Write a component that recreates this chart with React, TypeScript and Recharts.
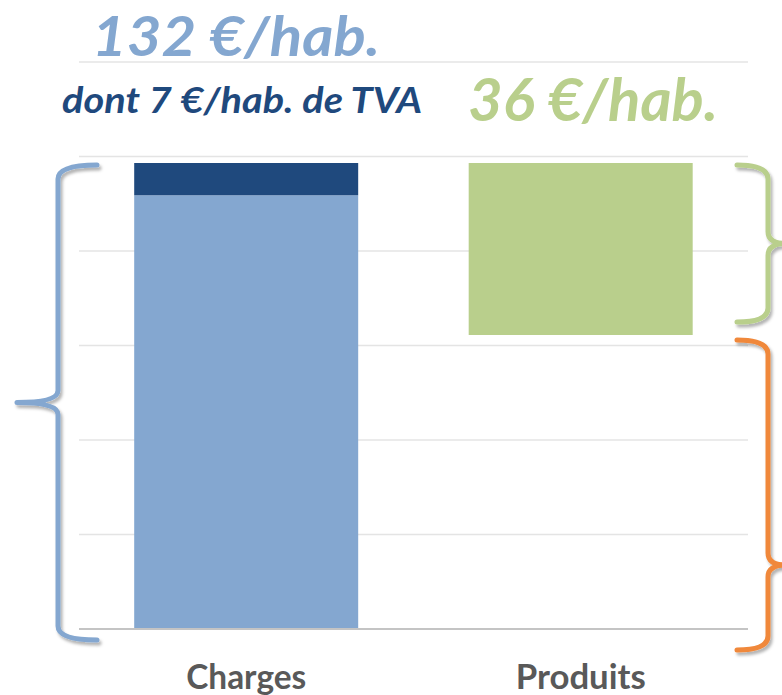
import React from "react";
import {
  BarChart,
  Bar,
  XAxis,
  YAxis,
  CartesianGrid,
  ReferenceArea,
} from "recharts";

// values, in gridline units (one gridline = 1)
const categories = ["Charges", "Produits"];
const chargesHorsTva = [4.59, 0];
const tva = [0.34, 0];
const produitsBase = [0, 3.11];
const produits = [0, 1.82];
const yTicks = [0, 1, 2, 3, 4, 5, 6];

const totalCharges = chargesHorsTva[0] + tva[0];
const produitsTop = produitsBase[1] + produits[1];

const data = categories.map((name, i) => ({
  name,
  chargesHorsTva: chargesHorsTva[i],
  produitsBase: produitsBase[i],
  tva: tva[i],
  produits: produits[i],
}));

const FONT = "Lato, 'Open Sans', sans-serif";

function bracePath(endX: number, spineX: number, tipX: number, y0: number, y1: number, ym: number) {
  const r = 14;
  const t = 12;
  return [
    `M ${endX} ${y0}`,
    `Q ${spineX} ${y0} ${spineX} ${y0 + r}`,
    `L ${spineX} ${ym - t}`,
    `Q ${spineX} ${ym} ${tipX} ${ym}`,
    `Q ${spineX} ${ym} ${spineX} ${ym + t}`,
    `L ${spineX} ${y1 - r}`,
    `Q ${spineX} ${y1} ${endX} ${y1}`,
  ].join(" ");
}

function makeBrace(side: "left" | "right", color: string, padTop: number, padBottom: number, tipShift: number) {
  return function BraceShape(props: any) {
    const { x, y, width, height } = props;
    const y0 = y + padTop;
    const y1 = y + height + padBottom;
    const ym = (y0 + y1) / 2 + tipShift;
    let d;
    if (side === "left") {
      d = bracePath(x + 18, x - 21, x - 62, y0, y1, ym);
    } else {
      const r = x + width;
      d = bracePath(r - 11, r + 20, r + 38, y0, y1, ym);
    }
    return (
      <path
        d={d}
        fill="none"
        stroke={color}
        strokeWidth={5}
        strokeLinecap="round"
        strokeLinejoin="round"
        filter="url(#braceShadow)"
      />
    );
  };
}

function CategoryTick(props: any) {
  const { x, y, payload } = props;
  return (
    <text
      x={x}
      y={y + 52}
      textAnchor="middle"
      fill="#595959"
      fontFamily={FONT}
      fontWeight={700}
      fontSize={35}
      textLength={payload.value === "Charges" ? 120 : 130}
      lengthAdjust="spacingAndGlyphs"
    >
      {payload.value}
    </text>
  );
}

export default function App() {
  return (
    <div style={{ position: "absolute", left: 0, top: 0, width: 782, height: 695, background: "#fff" }}>
      <BarChart
        width={782}
        height={695}
        data={data}
        margin={{ top: 62, right: 34, left: 79, bottom: 0 }}
        barCategoryGap="16.5%"
      >
        <defs>
          <filter id="braceShadow" x="-50%" y="-10%" width="200%" height="120%">
            <feDropShadow dx={2} dy={3} stdDeviation={1.5} floodColor="#000" floodOpacity={0.3} />
          </filter>
        </defs>
        <CartesianGrid horizontal={true} vertical={false} stroke="#e4e4e4" strokeWidth={1.5} />
        <XAxis
          dataKey="name"
          height={66}
          tickLine={false}
          axisLine={{ stroke: "#c4c4c4", strokeWidth: 2 }}
          tick={<CategoryTick />}
          interval={0}
        />
        <YAxis hide domain={[0, 6]} ticks={yTicks} />
        <Bar dataKey="chargesHorsTva" stackId="a" fill="#84a7d0" isAnimationActive={false} />
        <Bar dataKey="produitsBase" stackId="a" fill="transparent" isAnimationActive={false} />
        <Bar dataKey="tva" stackId="a" fill="#1f497d" isAnimationActive={false} />
        <Bar dataKey="produits" stackId="a" fill="#b9cf8c" isAnimationActive={false} />
        <ReferenceArea
          y1={0}
          y2={totalCharges}
          ifOverflow="visible"
          shape={makeBrace("left", "#84a7d0", 2, 11, 0)}
        />
        <ReferenceArea
          y1={produitsBase[1]}
          y2={produitsTop}
          ifOverflow="visible"
          shape={makeBrace("right", "#b9cf8c", 2, -13, 0)}
        />
        <ReferenceArea
          y1={0}
          y2={produitsBase[1]}
          ifOverflow="visible"
          shape={makeBrace("right", "#f0883a", 5, 21, 70)}
        />
      </BarChart>
      <svg
        width={782}
        height={140}
        style={{ position: "absolute", left: 0, top: 0, pointerEvents: "none" }}
      >
        <text x={92} y={56} fill="#84a7d0" fontFamily={FONT} fontWeight={700} fontStyle="italic" fontSize={56} textLength={288} lengthAdjust="spacingAndGlyphs">
          132 €/hab.
        </text>
        <text x={62} y={113} fill="#1f497d" fontFamily={FONT} fontWeight={700} fontStyle="italic" fontSize={37} textLength={360} lengthAdjust="spacingAndGlyphs">
          dont 7 €/hab. de TVA
        </text>
        <text x={468} y={121} fill="#b9cf8c" fontFamily={FONT} fontWeight={700} fontStyle="italic" fontSize={60} textLength={250} lengthAdjust="spacingAndGlyphs">
          36 €/hab.
        </text>
      </svg>
    </div>
  );
}
